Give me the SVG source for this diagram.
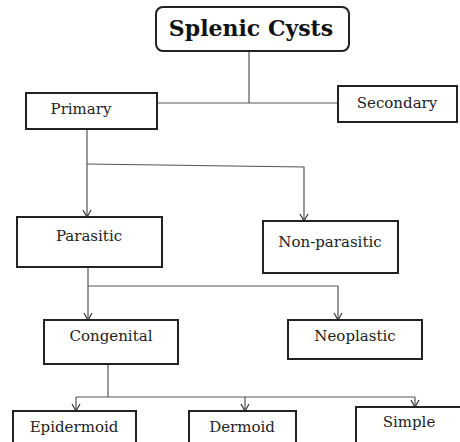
<svg xmlns="http://www.w3.org/2000/svg" width="460" height="442" viewBox="0 0 460 442">
<defs>
<marker id="arr" markerWidth="10" markerHeight="10" refX="8" refY="5" orient="auto" markerUnits="userSpaceOnUse">
<path d="M1,1 L8,5 L1,9" fill="none" stroke="#333" stroke-width="1.2"/>
</marker>
<style>
.box{fill:#fff;stroke:#222;stroke-width:2}
.lbl{font-family:"DejaVu Serif","Liberation Serif",serif;font-size:15px;fill:#222;text-anchor:middle}
.ttl{font-family:"DejaVu Serif","Liberation Serif",serif;font-size:22px;font-weight:bold;fill:#111;text-anchor:middle}
.ln{fill:none;stroke:#555;stroke-width:1.2}
</style>
</defs>
<rect width="460" height="442" fill="#fff"/>
<g id="connectors">
<path class="ln" d="M249,51 V103"/>
<path class="ln" d="M157,103 H340"/>
<path class="ln" d="M87,129 V217" marker-end="url(#arr)"/>
<path class="ln" d="M87,164 L304,167 V221" marker-end="url(#arr)"/>
<path class="ln" d="M88,267 V320" marker-end="url(#arr)"/>
<path class="ln" d="M88,286 H338 V320" marker-end="url(#arr)"/>
<path class="ln" d="M108,364 V397"/>
<path class="ln" d="M76,397 H415"/>
<path class="ln" d="M76,397 V411" marker-end="url(#arr)"/>
<path class="ln" d="M245,397 V411" marker-end="url(#arr)"/>
<path class="ln" d="M415,397 V407" marker-end="url(#arr)"/>
</g>
<g id="splenic-cysts">
<rect class="box" x="156" y="7" width="193" height="44" rx="7"/>
<text class="ttl" x="251" y="36">Splenic Cysts</text>
</g>
<g id="primary">
<rect class="box" x="26" y="93" width="131" height="36"/>
<text class="lbl" x="81" y="114">Primary</text>
</g>
<g id="secondary">
<rect class="box" x="338" y="86" width="119" height="36"/>
<text class="lbl" x="397" y="108">Secondary</text>
</g>
<g id="parasitic">
<rect class="box" x="17" y="217" width="145" height="50"/>
<text class="lbl" x="89" y="241">Parasitic</text>
</g>
<g id="non-parasitic">
<rect class="box" x="263" y="221" width="135" height="52"/>
<text class="lbl" x="330" y="247">Non-parasitic</text>
</g>
<g id="congenital">
<rect class="box" x="44" y="320" width="134" height="44"/>
<text class="lbl" x="111" y="341">Congenital</text>
</g>
<g id="neoplastic">
<rect class="box" x="288" y="320" width="134" height="39"/>
<text class="lbl" x="355" y="341">Neoplastic</text>
</g>
<g id="epidermoid">
<rect class="box" x="13" y="411" width="123" height="40"/>
<text class="lbl" x="74" y="432">Epidermoid</text>
</g>
<g id="dermoid">
<rect class="box" x="189" y="411" width="107" height="40"/>
<text class="lbl" x="242" y="432">Dermoid</text>
</g>
<g id="simple">
<rect class="box" x="356" y="407" width="110" height="44"/>
<text class="lbl" x="409" y="427">Simple</text>
</g>
</svg>
